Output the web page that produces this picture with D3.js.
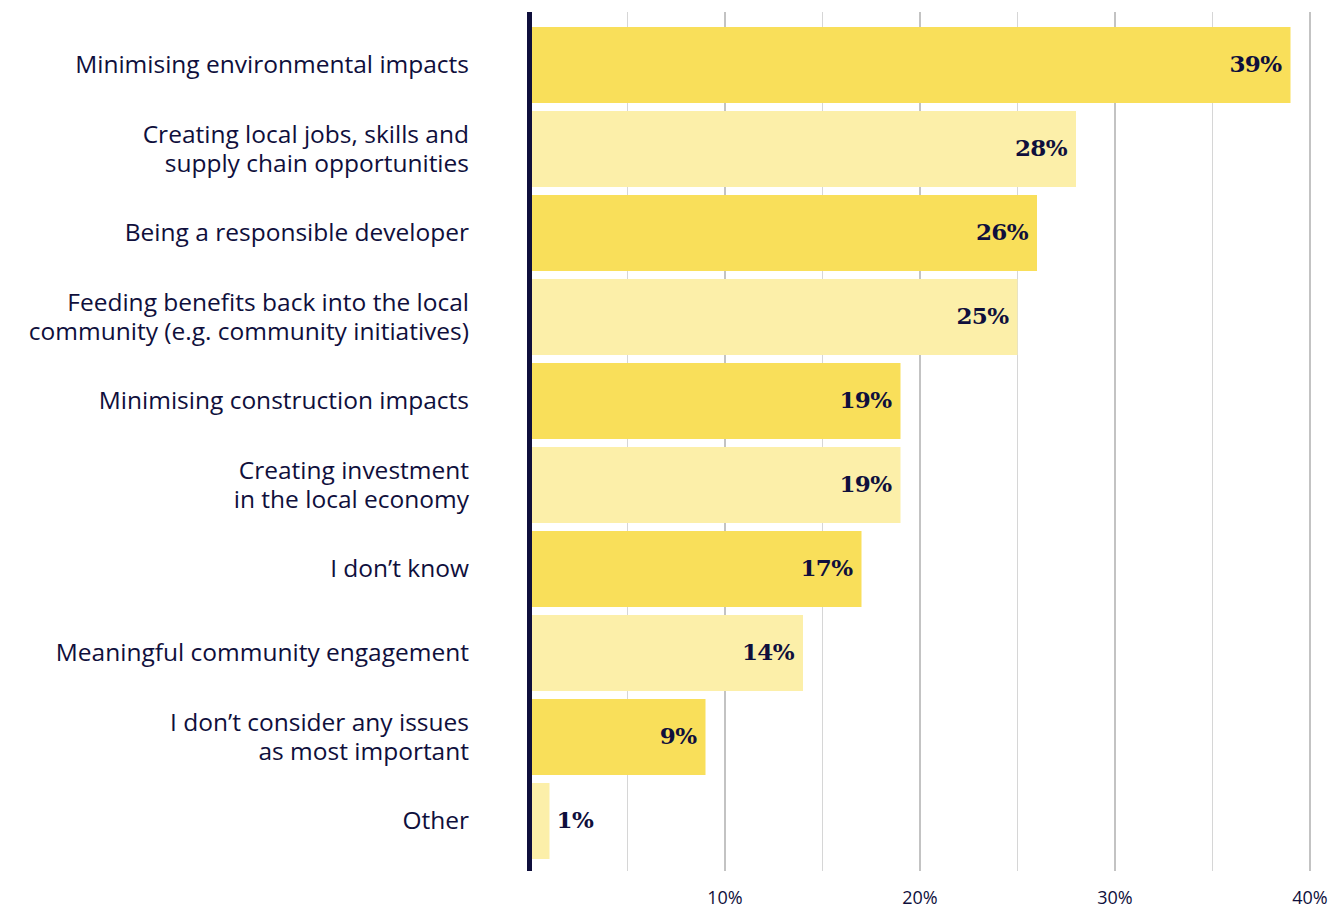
<!DOCTYPE html>
<html>
<head>
<meta charset="utf-8">
<script src="https://cdn.jsdelivr.net/npm/d3@7"></script>
<style>
  html, body { margin: 0; padding: 0; background: #ffffff; }
  svg { display: block; }
</style>
</head>
<body>
<svg id="chart" width="1332" height="905"></svg>
<script>
// Survey responses: most important issues (share of respondents, %)
const categories = [
  ["Minimising environmental impacts"],
  ["Creating local jobs, skills and", "supply chain opportunities"],
  ["Being a responsible developer"],
  ["Feeding benefits back into the local", "community (e.g. community initiatives)"],
  ["Minimising construction impacts"],
  ["Creating investment", "in the local economy"],
  ["I don’t know"],
  ["Meaningful community engagement"],
  ["I don’t consider any issues", "as most important"],
  ["Other"]
];
const values = [39, 28, 26, 25, 19, 19, 17, 14, 9, 1];
const tickValues = [10, 20, 30, 40];
const gridValues = [5, 10, 15, 20, 25, 30, 35, 40];

const navy = "#0f0f3c";
const barDark = "#f9df5a";
const barLight = "#fcefa9";

const svg = d3.select("#chart");

const x = d3.scaleLinear().domain([0, 40]).range([530, 1310]);
const y = d3.scaleBand()
  .domain(d3.range(values.length))
  .range([23, 863])
  .paddingInner(8 / 84)
  .paddingOuter(4 / 84);

// vertical gridlines: stronger at every 10%, lighter at the 5% marks
svg.append("g").selectAll("line")
  .data(gridValues)
  .join("line")
  .attr("x1", d => x(d)).attr("x2", d => x(d))
  .attr("y1", 12).attr("y2", 871)
  .attr("stroke", d => d % 10 === 0 ? "#a3a3a3" : "#d6d6d6")
  .attr("stroke-width", d => d % 10 === 0 ? 1.3 : 1);

// bars
svg.append("g").selectAll("rect")
  .data(values)
  .join("rect")
  .attr("x", x(0))
  .attr("y", (d, i) => y(i))
  .attr("width", d => x(d) - x(0))
  .attr("height", y.bandwidth())
  .attr("fill", (d, i) => i % 2 === 0 ? barDark : barLight);

// value labels: inside the bar end, outside for very short bars
svg.append("g").selectAll("text")
  .data(values)
  .join("text")
  .attr("x", d => d < 3 ? x(d) + 7 : x(d) - 9)
  .attr("y", (d, i) => y(i) + y.bandwidth() / 2)
  .attr("dy", "0.3em")
  .attr("text-anchor", d => d < 3 ? "start" : "end")
  .attr("font-family", "'DejaVu Serif', 'Liberation Serif', serif")
  .attr("font-weight", "bold")
  .attr("font-size", 23)
  .attr("letter-spacing", -0.6)
  .attr("fill", navy)
  .text(d => d + "%");

// category labels (right-aligned, wrapped over up to two lines)
const labels = svg.append("g").selectAll("text")
  .data(categories)
  .join("text")
  .attr("text-anchor", "end")
  .attr("font-family", "'Open Sans', sans-serif")
  .attr("font-size", 24.5)
  .attr("fill", navy);

labels.each(function(lines, i) {
  const cy = y(i) + y.bandwidth() / 2;
  const lh = 29;
  const top = cy - (lines.length - 1) * lh / 2;
  d3.select(this).selectAll("tspan")
    .data(lines)
    .join("tspan")
    .attr("x", 469)
    .attr("y", (d, j) => top + j * lh)
    .attr("dy", "0.33em")
    .text(d => d);
});

// bottom tick labels
svg.append("g").selectAll("text")
  .data(tickValues)
  .join("text")
  .attr("x", d => x(d))
  .attr("y", 904)
  .attr("text-anchor", "middle")
  .attr("font-family", "'Open Sans', sans-serif")
  .attr("font-size", 18)
  .attr("fill", navy)
  .text(d => d + "%");

// baseline axis
svg.append("line")
  .attr("x1", x(0) - 0.5).attr("x2", x(0) - 0.5)
  .attr("y1", 12).attr("y2", 871)
  .attr("stroke", navy)
  .attr("stroke-width", 5);
</script>
</body>
</html>
